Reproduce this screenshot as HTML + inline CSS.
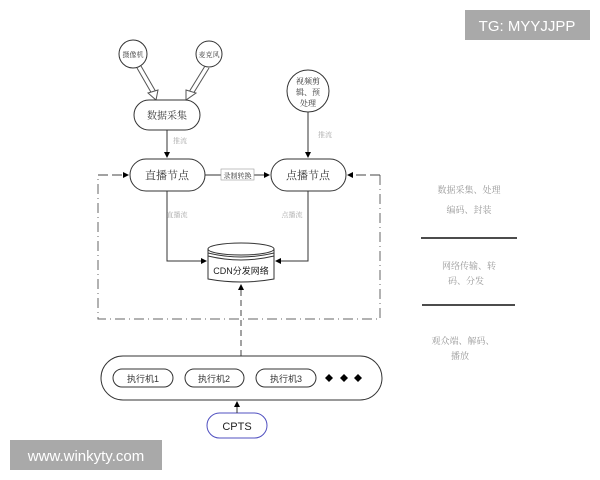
<!DOCTYPE html>
<html><head><meta charset="utf-8"><style>
html,body{margin:0;padding:0;background:#fff;}
svg{display:block;}
text{font-family:"Liberation Serif","Noto Serif CJK SC",serif;}
.s{font-family:"Liberation Sans","Noto Sans CJK SC",sans-serif;}
</style></head><body>
<svg width="600" height="480" viewBox="0 0 600 480" xmlns="http://www.w3.org/2000/svg">
<defs>
<marker id="a" markerWidth="6" markerHeight="6" refX="5" refY="3" orient="auto"><path d="M0,0 L6,3 L0,6z" fill="#000"/></marker>
</defs>
<rect width="600" height="480" fill="#fff"/>
<!-- circles -->
<circle cx="133" cy="54" r="14" fill="#fff" stroke="#333"/>
<text x="133" y="57" font-size="7" text-anchor="middle" fill="#333">摄像机</text>
<circle cx="209" cy="54" r="13" fill="#fff" stroke="#333"/>
<text x="209" y="57" font-size="7" text-anchor="middle" fill="#333">麦克风</text>
<!-- double arrows -->
<g stroke="#555" fill="none">
<line x1="137" y1="68" x2="152" y2="94"/><line x1="141" y1="66" x2="156" y2="92"/>
<line x1="205" y1="66" x2="189" y2="92"/><line x1="209" y1="68" x2="193" y2="94"/>
</g>
<path d="M148,93 L158,90 L156,100z" fill="#fff" stroke="#555"/>
<path d="M186,90 L196,93 L186,100z" fill="#fff" stroke="#555"/>
<rect x="134" y="100" width="66" height="30" rx="15" fill="#fff" stroke="#333"/>
<text x="167" y="119" font-size="10" text-anchor="middle" fill="#333">数据采集</text>
<line x1="167" y1="130" x2="167" y2="157" stroke="#333" marker-end="url(#a)"/>
<text x="180" y="143" font-size="7" text-anchor="middle" fill="#aaa">推流</text>
<!-- video edit circle -->
<circle cx="308" cy="91" r="21" fill="#fff" stroke="#333"/>
<text x="308" y="84" font-size="8" text-anchor="middle" fill="#333">视频剪</text>
<text x="308" y="95" font-size="8" text-anchor="middle" fill="#333">辑、预</text>
<text x="308" y="106" font-size="8" text-anchor="middle" fill="#333">处理</text>
<line x1="308" y1="112" x2="308" y2="157" stroke="#333" marker-end="url(#a)"/>
<text x="325" y="137" font-size="7" text-anchor="middle" fill="#aaa">推流</text>
<!-- frame -->
<path d="M380,175 L380,319 L98,319 L98,175" fill="none" stroke="#666" stroke-dasharray="10,4,1,4"/>
<path d="M98,175 L128,175" stroke="#444" stroke-dasharray="10,4" marker-end="url(#a)"/>
<path d="M380,175 L348,175" stroke="#444" stroke-dasharray="10,4" marker-end="url(#a)"/>
<!-- nodes -->
<rect x="130" y="159" width="75" height="32" rx="16" fill="#fff" stroke="#333"/>
<text x="167" y="179" font-size="11" text-anchor="middle" fill="#333">直播节点</text>
<rect x="271" y="159" width="75" height="32" rx="16" fill="#fff" stroke="#333"/>
<text x="308" y="179" font-size="11" text-anchor="middle" fill="#333">点播节点</text>
<line x1="205" y1="175" x2="269" y2="175" stroke="#333" marker-end="url(#a)"/>
<rect x="221" y="169" width="33" height="11" fill="#fff" stroke="#999" stroke-width="0.6"/>
<text x="237.5" y="178" font-size="7" text-anchor="middle" fill="#333">录制转换</text>
<text x="177" y="217" font-size="7" text-anchor="middle" fill="#aaa">直播流</text>
<text x="292" y="217" font-size="7" text-anchor="middle" fill="#aaa">点播流</text>
<path d="M167,191 L167,261 L206,261" fill="none" stroke="#333" marker-end="url(#a)"/>
<path d="M308,191 L308,261 L276,261" fill="none" stroke="#333" marker-end="url(#a)"/>
<!-- cylinder -->
<path d="M208,249 L208,279 Q241,285 274,279 L274,249" fill="#fff" stroke="#333"/>
<ellipse cx="241" cy="249" rx="33" ry="6" fill="#fff" stroke="#333"/>
<path d="M208,253 Q241,261 274,253 M208,256 Q241,264 274,256" fill="none" stroke="#333"/>
<text x="241" y="274" font-size="9" text-anchor="middle" fill="#222" class="s">CDN分发网络</text>
<line x1="241" y1="356" x2="241" y2="285" stroke="#444" stroke-dasharray="6,4" marker-end="url(#a)"/>
<!-- executors -->
<rect x="101" y="356" width="281" height="44" rx="22" fill="#fff" stroke="#333"/>
<rect x="113" y="369" width="60" height="18" rx="9" fill="#fff" stroke="#333"/>
<text x="143" y="382" font-size="9" text-anchor="middle" fill="#333" class="s">执行机1</text>
<rect x="185" y="369" width="59" height="18" rx="9" fill="#fff" stroke="#333"/>
<text x="214" y="382" font-size="9" text-anchor="middle" fill="#333" class="s">执行机2</text>
<rect x="256" y="369" width="60" height="18" rx="9" fill="#fff" stroke="#333"/>
<text x="286" y="382" font-size="9" text-anchor="middle" fill="#333" class="s">执行机3</text>
<g fill="#000"><path d="M329,374 L333,378 L329,382 L325,378z"/><path d="M344,374 L348,378 L344,382 L340,378z"/><path d="M358,374 L362,378 L358,382 L354,378z"/></g>
<rect x="207" y="413" width="60" height="25" rx="12.5" fill="#fff" stroke="#5050c0"/>
<text x="237" y="430" font-size="11" text-anchor="middle" fill="#222" class="s">CPTS</text>
<line x1="237" y1="413" x2="237" y2="402" stroke="#333" marker-end="url(#a)"/>
<!-- right column -->
<text x="469" y="193" font-size="9" text-anchor="middle" fill="#999">数据采集、处理</text>
<text x="469" y="213" font-size="9" text-anchor="middle" fill="#999">编码、封装</text>
<line x1="421" y1="238" x2="517" y2="238" stroke="#111" stroke-width="1.5"/>
<text x="469" y="269" font-size="9" text-anchor="middle" fill="#999">网络传输、转</text>
<text x="466" y="284" font-size="9" text-anchor="middle" fill="#999">码、分发</text>
<line x1="422" y1="305" x2="515" y2="305" stroke="#111" stroke-width="1.5"/>
<text x="463" y="344" font-size="9" text-anchor="middle" fill="#999">观众端、解码、</text>
<text x="460" y="359" font-size="9" text-anchor="middle" fill="#999">播放</text>
<!-- watermarks -->
<rect x="465" y="10" width="125" height="30" fill="#a9a9a9"/>
<text x="527" y="31" font-size="15" text-anchor="middle" fill="#fff" class="s">TG: MYYJJPP</text>
<rect x="10" y="440" width="152" height="30" fill="#a9a9a9"/>
<text x="86" y="461" font-size="15" text-anchor="middle" fill="#fff" class="s">www.winkyty.com</text>
</svg>
</body></html>
